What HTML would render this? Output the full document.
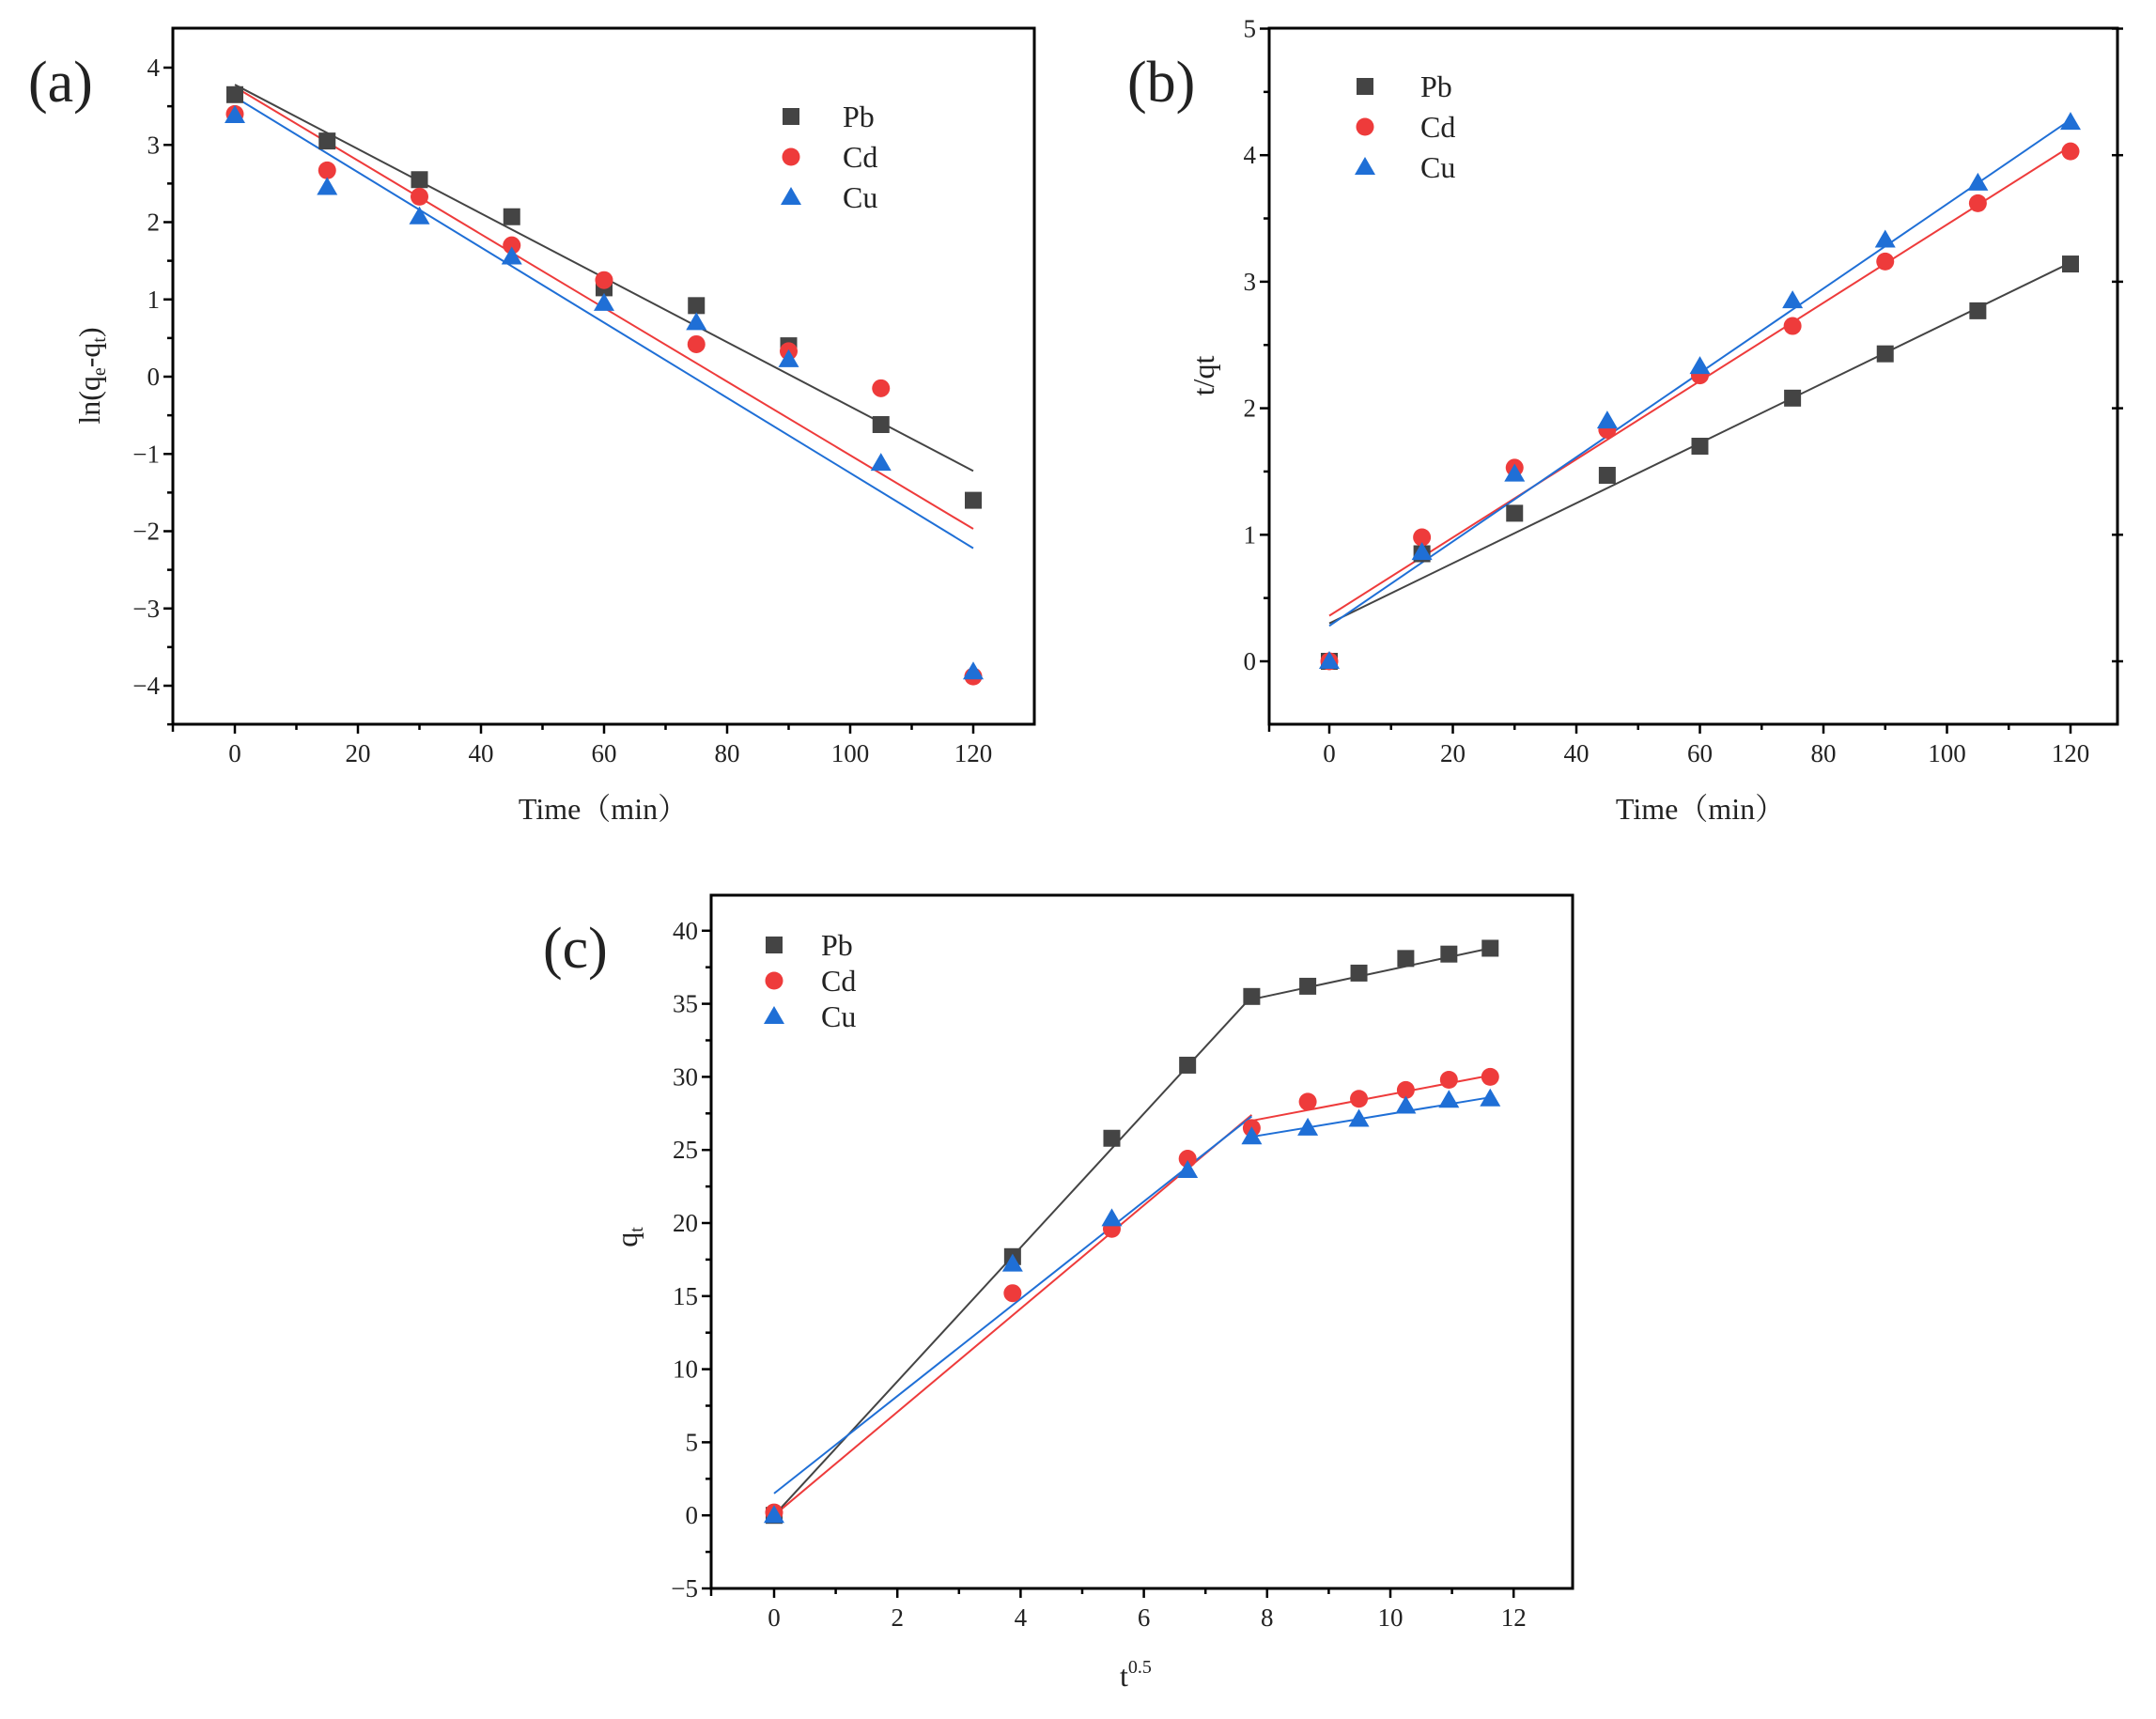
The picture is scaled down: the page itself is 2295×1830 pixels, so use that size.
<!DOCTYPE html>
<html><head><meta charset="utf-8"><style>
body{margin:0;background:#fff}
svg{display:block}
text{font-family:"Liberation Serif","Noto Serif CJK SC",serif;fill:#222}
</style></head><body>
<svg id="s" width="2295" height="1830" viewBox="0 0 2295 1830" xmlns="http://www.w3.org/2000/svg"></svg>
<script>
const s=document.getElementById('s');let h='';
const C={Pb:'#444',Cd:'#ee3b3b',Cu:'#1f6fd6'};
function mk(t,x,y){const c=C[t];
 if(t=='Pb')return `<rect x="${x-9}" y="${y-9}" width="18" height="18" fill="${c}"/>`;
 if(t=='Cd')return `<circle cx="${x}" cy="${y}" r="9.5" fill="${c}"/>`;
 return `<polygon points="${x},${y-11} ${x+11},${y+8} ${x-11},${y+8}" fill="${c}"/>`;}
function panel(P){
 const X=v=>P.x0+(v-P.xa)*P.xs, Y=v=>P.y0-(v-P.ya)*P.ys;
 h+=`<rect x="${P.L}" y="${P.T}" width="${P.R-P.L}" height="${P.B-P.T}" fill="none" stroke="#000" stroke-width="3"/>`;
 P.xt.forEach((v,i)=>{const x=X(v);const maj=i%2==0;
  h+=`<line x1="${x}" y1="${P.B}" x2="${x}" y2="${P.B+(maj?10:6)}" stroke="#000" stroke-width="2.5"/>`;
  if(maj)h+=`<text x="${x}" y="${P.B+40}" font-size="27" text-anchor="middle">${v}</text>`;});
 h+=`<line x1="${P.L}" y1="${P.B}" x2="${P.L}" y2="${P.B+8}" stroke="#000" stroke-width="2.5"/>`;
 P.yt.forEach((v,i)=>{const y=Y(v);const maj=i%2==0;
  h+=`<line x1="${P.L}" y1="${y}" x2="${P.L-(maj?10:6)}" y2="${y}" stroke="#000" stroke-width="2.5"/>`;
  if(P.rt&&maj)h+=`<line x1="${P.R-6}" y1="${y}" x2="${P.R+6}" y2="${y}" stroke="#000" stroke-width="2.5"/>`;
  if(maj)h+=`<text x="${P.L-14}" y="${y+9}" font-size="27" text-anchor="end">${String(v).replace('-','−')}</text>`;});
 P.lines.forEach(l=>{h+=`<line x1="${X(l[1])}" y1="${Y(l[2])}" x2="${X(l[3])}" y2="${Y(l[4])}" stroke="${C[l[0]]}" stroke-width="2"/>`;});
 ['Pb','Cd','Cu'].forEach(t=>{P.d[t].forEach((v,i)=>{h+=mk(t,X(P.xv[i]),Y(v));});});
 ['Pb','Cd','Cu'].forEach((t,i)=>{h+=mk(t,P.lg[0],P.lg[1]+i*P.lg[3]);
  h+=`<text x="${P.lg[2]}" y="${P.lg[1]+i*P.lg[3]+11}" font-size="32">${t}</text>`;});
}
const tx=[0,15,30,45,60,75,90,105,120];
panel({L:184,R:1101,T:30,B:771,x0:250,xa:0,xs:6.55,y0:401,ya:0,ys:82.25,
 xt:[0,10,20,30,40,50,60,70,80,90,100,110,120],yt:[4,3.5,3,2.5,2,1.5,1,0.5,0,-0.5,-1,-1.5,-2,-2.5,-3,-3.5,-4,-4.5],
 xv:tx,d:{Pb:[3.65,3.05,2.55,2.07,1.15,0.92,0.4,-0.62,-1.6],Cd:[3.4,2.67,2.33,1.7,1.25,0.42,0.33,-0.15,-3.88],Cu:[3.38,2.45,2.07,1.55,0.95,0.7,0.22,-1.12,-3.82]},
 lines:[['Pb',0,3.78,120,-1.22],['Cd',0,3.75,120,-1.97],['Cu',0,3.62,120,-2.22]],lg:[842,124,897,43]});
panel({L:1351,R:2254,T:30,B:771,x0:1415,xa:0,xs:6.575,y0:704,ya:0,ys:134.7,rt:1,
 xt:[0,10,20,30,40,50,60,70,80,90,100,110,120],yt:[5,4.5,4,3.5,3,2.5,2,1.5,1,0.5,0],
 xv:tx,d:{Pb:[0,0.85,1.17,1.47,1.7,2.08,2.43,2.77,3.14],Cd:[0,0.98,1.53,1.83,2.26,2.65,3.16,3.62,4.03],Cu:[0,0.86,1.48,1.9,2.33,2.85,3.33,3.78,4.26]},
 lines:[['Pb',0,0.3,120,3.15],['Cd',0,0.36,120,4.07],['Cu',0,0.28,120,4.28]],lg:[1453,92,1512,43]});
const cx=[0,3.87,5.48,6.71,7.75,8.66,9.49,10.25,10.95,11.62];
panel({L:757,R:1674,T:953,B:1691,x0:824,xa:0,xs:65.6,y0:1691,ya:-5,ys:15.56,
 xt:[0,1,2,3,4,5,6,7,8,9,10,11,12],yt:[40,37.5,35,32.5,30,27.5,25,22.5,20,17.5,15,12.5,10,7.5,5,2.5,0,-2.5,-5],
 xv:cx,d:{Pb:[0,17.7,25.8,30.8,35.5,36.2,37.1,38.1,38.4,38.8],Cd:[0.2,15.2,19.6,24.4,26.5,28.3,28.5,29.1,29.8,30.0],Cu:[0,17.2,20.3,23.6,25.9,26.5,27.1,28.0,28.4,28.5]},
 lines:[['Pb',0,0,7.75,35.5],['Pb',7.75,35.3,11.62,38.8],['Cd',0,0,7.75,27.4],['Cd',7.75,27.0,11.62,30.1],['Cu',0,1.5,7.75,27.3],['Cu',7.75,25.9,11.62,28.6]],lg:[824,1006,874,38]});
h+=`<text x="30" y="108" font-size="62" font-family="Liberation Sans">(a)</text>`;
h+=`<text x="1200" y="108" font-size="62" font-family="Liberation Sans">(b)</text>`;
h+=`<text x="578" y="1030" font-size="62" font-family="Liberation Sans">(c)</text>`;
h+=`<text x="642" y="872" font-size="32" text-anchor="middle">Time（min）</text>`;
h+=`<text x="1810" y="872" font-size="32" text-anchor="middle">Time（min）</text>`;
h+=`<text transform="translate(106,400) rotate(-90)" font-size="32" text-anchor="middle">ln(q<tspan font-size="20" dy="6">e</tspan><tspan dy="-6">-q</tspan><tspan font-size="20" dy="6">t</tspan><tspan dy="-6">)</tspan></text>`;
h+=`<text transform="translate(1292,400) rotate(-90)" font-size="32" text-anchor="middle">t/qt</text>`;
h+=`<text transform="translate(678,1317) rotate(-90)" font-size="32" text-anchor="middle">q<tspan font-size="20" dy="6">t</tspan></text>`;
h+=`<text x="1192" y="1795" font-size="32">t<tspan font-size="20" dy="-14">0.5</tspan></text>`;
s.innerHTML=h;
</script>
</body></html>
